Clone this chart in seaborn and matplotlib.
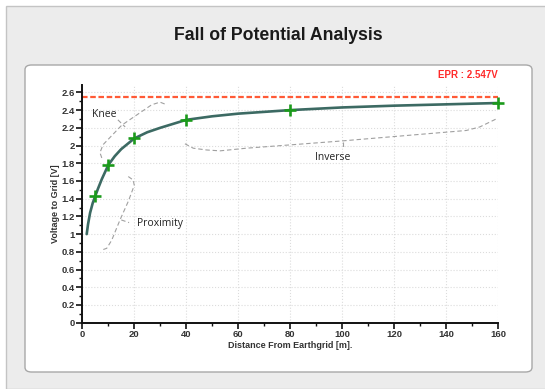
import matplotlib
matplotlib.use("Agg")
import matplotlib.pyplot as plt
import seaborn as sns
import numpy as np
import pandas as pd
from matplotlib.patches import Rectangle, FancyBboxPatch
from matplotlib.ticker import MultipleLocator, FuncFormatter

# curve
curve_x = [1.7, 2.2, 3, 4, 5, 6, 7.5, 10, 12.5, 15, 20, 25, 30, 40, 50, 60, 80, 100, 120, 140, 160]
curve_y = [1.0, 1.11, 1.24, 1.35, 1.43, 1.51, 1.62, 1.78, 1.88, 1.96, 2.08, 2.15, 2.20, 2.29,
           2.33, 2.36, 2.40, 2.43, 2.45, 2.465, 2.48]

# measured points (+ markers)
meas_x = [5, 10, 20, 40, 80, 160]
meas_y = [1.43, 1.78, 2.08, 2.29, 2.40, 2.48]

epr = 2.547

# hand drawn brackets (data coords)
knee_path = [(7.5, 1.86), (6.8, 1.92), (8.0, 2.01), (15.2, 2.23), (26.7, 2.46), (29.9, 2.49), (32.5, 2.46)]
knee_cusp = [(13.7, 2.29), (16.5, 2.21)]
prox_path = [(17.7, 1.65), (19.6, 1.61), (20.0, 1.55), (17.7, 1.37), (14.5, 1.16),
             (11.3, 0.93), (9.4, 0.84), (7.5, 0.82)]
prox_cusp = [(15.0, 1.16), (18.0, 1.13)]
inv_path = [(39.5, 2.02), (42.7, 1.97), (47.8, 1.95), (53.0, 1.94), (63.2, 1.97), (81.2, 2.01),
            (99.1, 2.05), (147.8, 2.17), (153.0, 2.21), (160, 2.31)]
inv_cusp = [(100.4, 2.04), (100.4, 1.96)]

sns.set_style("white")
plt.rcParams['font.family'] = ['Liberation Sans', 'DejaVu Sans']

W, H = 545, 389
fig = plt.figure(figsize=(W / 100, H / 100), dpi=100)
fig.patch.set_facecolor("white")

# window background and white panel
fig.patches.append(Rectangle((6 / W, 0), 1, 1 - 6 / H, transform=fig.transFigure,
                             facecolor="#ececec", edgecolor="#c4c4c4", lw=1.0, zorder=-3))
fig.patches.append(FancyBboxPatch((25 / W, 1 - 372 / H), (532 - 25) / W, (372 - 65) / H,
                                  boxstyle="round,pad=0,rounding_size=0.012",
                                  transform=fig.transFigure, facecolor="white",
                                  edgecolor="#a8a8a8", lw=1.0, zorder=-2))

fig.text(278 / W, 1 - 36 / H, "Fall of Potential Analysis", ha="center", va="center",
         fontsize=12.7, fontweight="bold", color="#1a1a1a")

ax = fig.add_axes([82.3 / W, 1 - 322.7 / H, (498 - 82.3) / W, (322.7 - 85.3) / H])
ax.set_facecolor("none")
ax.set_zorder(2)

df = pd.DataFrame({"x": curve_x, "y": curve_y})
sns.lineplot(data=df, x="x", y="y", ax=ax, color="#3c6a63", lw=1.9, zorder=3)
mdf = pd.DataFrame({"x": meas_x, "y": meas_y})
sns.scatterplot(data=mdf, x="x", y="y", ax=ax, marker="+", s=65, color="#1b9a1b",
                linewidth=1.9, zorder=4, clip_on=False)

ax.axhline(epr, color="#ff5a36", ls=(0, (2.5, 1.2)), lw=1.6, zorder=2)
ax.text(160, 2.80, "EPR : %.3fV" % epr, ha="right", va="center", color="#ff2a2a",
        fontsize=7, fontweight="bold", clip_on=False)

for path in [knee_path, knee_cusp, prox_path, prox_cusp, inv_path, inv_cusp]:
    px, py = zip(*path)
    ax.plot(px, py, color="#a0a0a0", lw=0.8, ls=(0, (4, 2.5)), zorder=2)

ax.text(3.6, 2.35, "Knee", fontsize=7.5, va="center", ha="left", color="#222222",
        family=["Open Sans", "DejaVu Sans"])
ax.text(20.9, 1.12, "Proximity", fontsize=7.5, va="center", ha="left", color="#222222",
        family=["Open Sans", "DejaVu Sans"])
ax.text(89.5, 1.86, "Inverse", fontsize=7.5, va="center", ha="left", color="#222222",
        family=["Open Sans", "DejaVu Sans"])

ax.set_xlim(0, 160)
ax.set_ylim(0, 2.68)
ax.xaxis.set_major_locator(MultipleLocator(20))
ax.xaxis.set_minor_locator(MultipleLocator(10))
ax.yaxis.set_major_locator(MultipleLocator(0.2))
ax.yaxis.set_minor_locator(MultipleLocator(0.1))
ax.yaxis.set_major_formatter(FuncFormatter(lambda v, p: "%g" % round(v, 1)))
ax.grid(True, which="major", color="#dcdcdc", ls=":", lw=0.8)

for s in ["top", "right"]:
    ax.spines[s].set_visible(False)
for s in ["left", "bottom"]:
    ax.spines[s].set_color("#111111")
    ax.spines[s].set_linewidth(1.4)

ax.tick_params(which="major", direction="out", length=4, width=1.2, color="#111111",
               labelsize=6.8, pad=1.5, left=True, bottom=True)
ax.tick_params(which="minor", direction="out", length=2.5, width=1.0, color="#111111",
               left=True, bottom=True)
for lab in ax.get_xticklabels() + ax.get_yticklabels():
    lab.set_fontweight("bold")
    lab.set_color("#333333")

ax.set_xlabel("Distance From Earthgrid [m].", fontsize=6.5, fontweight="bold",
              color="#333333", labelpad=1)
ax.set_ylabel("Voltage to Grid [V]", fontsize=6.5, fontweight="bold",
              color="#333333", labelpad=1)

fig.savefig("out.png", dpi=100)
